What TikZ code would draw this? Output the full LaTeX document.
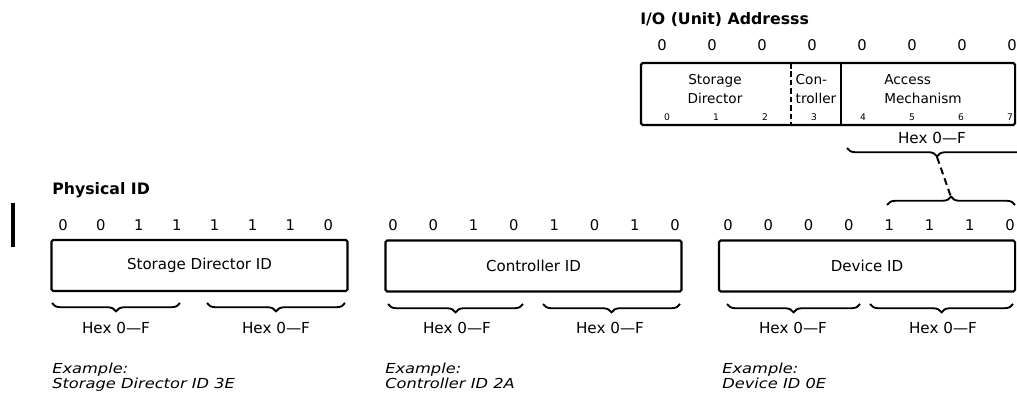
\documentclass[tikz,border=0pt]{standalone}
\usepackage{fontspec}
\setmainfont{DejaVu Sans}
\newfontfamily\exfont[FakeStretch=1.18]{DejaVu Sans}
\usetikzlibrary{decorations.pathreplacing}
\tikzset{
  % a field of the identifier
  fld/.style  = {draw, line width=1.5pt, rounded corners=1.2pt, inner sep=0pt,
                 minimum width=7.4cm, minimum height=1.275cm,
                 font=\fontsize{10.7}{12}\selectfont},
  % a bit value over a field
  bit/.style  = {inner sep=0pt, font=\fontsize{10.5}{12}\selectfont},
  % the small bit number inside the address field
  bnum/.style = {inner sep=0pt, font=\fontsize{6.5}{7}\selectfont},
  % a heading
  ttl/.style  = {anchor=west, inner sep=0pt,
                 font=\bfseries\fontsize{11.2}{13}\selectfont},
  % a hex label under a brace
  hx/.style   = {inner sep=0pt, font=\fontsize{10.8}{12}\selectfont},
  % the example text
  ex/.style   = {anchor=north west, inner sep=0pt, align=left,
                 font=\exfont\itshape\fontsize{9.8}{10.6}\selectfont},
  % text inside the address field
  inf/.style  = {inner sep=0pt, align=center, font=\fontsize{9.7}{13.5}\selectfont},
  % braces, pointing up and down
  brc/.style  = {decorate, line width=1.3pt,
                 decoration={brace, amplitude=6pt}},
  dbrc/.style = {decorate, line width=1.3pt,
                 decoration={brace, mirror, amplitude=6pt}},
  % field divider and link
  dvd/.style  = {line width=1.5pt},
  lnk/.style  = {line width=1.4pt, dash pattern=on 5pt off 3pt},
}
\newcommand{\bitrow}[5]{%
  \foreach \b [count=\i from 0] in {#5}
    \node[bit] (#1\i) at ({#2+\i*#3},#4) {\b};
}

\begin{document}
\begin{tikzpicture}[x=0.025cm, y=-0.025cm]
  \clip (0,0) rectangle (1017,400);
  % change bar
  \draw[line width=2.2pt] (13,203) -- (13,247);
  % I/O (unit) address
  \node[ttl] (iottl) at (640,20) {I/O (Unit) Addresss};
  \bitrow{iob}{662}{50}{45}{0,0,0,0,0,0,0,0}
  \node[fld, minimum width=9.35cm, minimum height=1.55cm] (io) at (828,94) {};
  \draw[dvd, dash pattern=on 4pt off 2pt] (791,63) -- (791,125);
  \draw[dvd] (841,63) -- (841,125);
  \node[inf] (iosd) at (715,89) {Storage\\Director};
  \node[inf, align=left] (ioct) at (816,89) {Con-\\troller};
  \node[inf, align=left] (ioam) at (923,89) {Access\\Mechanism};
  \foreach \n in {0,...,7}
    \node[bnum] (ion\n) at ({667+\n*49},117) {\n};
  \node[hx] (iohx) at (932,138) {Hex 0---F};
  \draw[dbrc] (847,148) -- (1027,148);
  \coordinate (iotip) at (937,157);
  % physical ID
  \node[ttl] (phttl) at (52,190) {Physical ID};
  \node[fld] (sdid) at (199.5,265.5) {Storage Director ID};
  \bitrow{sdb}{63}{37.9}{225}{0,0,1,1,1,1,1,0}
  \draw[dbrc] (52,303) -- (180,303);
  \draw[dbrc] (207,303) -- (345,303);
  \node[hx] (sdhxa) at (116,328) {Hex 0---F};
  \node[hx] (sdhxb) at (276,328) {Hex 0---F};
  \node[ex] (sdex) at (52,363) {Example:\\Storage Director ID 3E};
  \node[fld] (ctid) at (533.5,266) {Controller ID};
  \bitrow{ctb}{393}{40.3}{225}{0,0,1,0,1,0,1,0}
  \draw[dbrc] (388,304) -- (523,304);
  \draw[dbrc] (543,304) -- (680,304);
  \node[hx] (cthxa) at (457,328) {Hex 0---F};
  \node[hx] (cthxb) at (610,328) {Hex 0---F};
  \node[ex] (ctex) at (385,363) {Example:\\Controller ID 2A};
  \node[fld] (dvid) at (867,266) {Device ID};
  \bitrow{dvb}{728}{40.3}{225}{0,0,0,0,1,1,1,0}
  \draw[dbrc] (727,304) -- (860,304);
  \draw[dbrc] (870,304) -- (1013,304);
  \node[hx] (dvhxa) at (793,328) {Hex 0---F};
  \node[hx] (dvhxb) at (943,328) {Hex 0---F};
  \node[ex] (dvex) at (722,363) {Example:\\Device ID 0E};
  \draw[brc] (887,205) -- (1015,205);
  \coordinate (dvtip) at (951,197);
  \draw[lnk] (iotip) -- (dvtip);
\end{tikzpicture}
\end{document}
